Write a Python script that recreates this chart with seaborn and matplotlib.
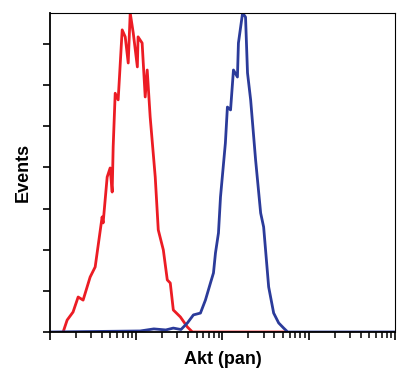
import pandas as pd
import seaborn as sns
import matplotlib.pyplot as plt
from matplotlib.ticker import FixedLocator, NullFormatter, MultipleLocator

# isotype / negative control (red) - intensity vs. events
red_x = [1.42, 1.58, 1.85, 2.12, 2.42, 2.92, 3.34, 4.02, 4.13, 4.60, 4.98, 5.26, 5.40,
         5.70, 6.17, 6.87, 7.45, 8.07, 8.51, 9.23, 10.3, 10.5, 11.7, 12.7, 13.4, 14.5,
         16.6, 18.0, 20.6, 22.9, 24.8, 26.9, 32.5, 39.2, 44.8, 540]
red_y = [0, 5.8, 9.7, 17, 15.5, 26.7, 31.6, 55.9, 53, 75.3, 79.7, 68, 89.9,
         116, 112.8, 146.8, 143.4, 130.7, 155, 145.3, 128.8, 143.4, 140.4, 114.2, 127.3, 104.5,
         75.3, 49.6, 39.9, 25.3, 23.8, 10.7, 7.3, 2.4, 0, 0]

# Akt (pan) stained (blue)
blue_x = [1.0, 11.1, 16.0, 22.0, 26.9, 33.0, 39.2, 46.0, 55.5, 63.4, 72.5, 78.6, 82.9,
          89.8, 94.8, 108, 114, 124, 134, 149, 153, 171, 185, 195, 212, 242, 277, 300,
          343, 392, 448, 512, 570, 652, 10000]
blue_y = [0, 0.5, 1.5, 1.0, 1.9, 1.2, 4.4, 8.3, 9.2, 15.5, 23.8, 28.7, 38.4,
          48.1, 65.6, 91.8, 109.3, 107.9, 127.3, 123.9, 140.4, 155, 153, 125.9, 112.8,
          83.6, 57.8, 51, 21.9, 9.2, 4.4, 1.9, 0, 0, 0]

decades = [1, 10, 100, 1000, 10000]

df = pd.concat([
    pd.DataFrame({"intensity": red_x, "events": red_y, "sample": "control"}),
    pd.DataFrame({"intensity": blue_x, "events": blue_y, "sample": "Akt"}),
])

sns.set_style("ticks")
plt.rcParams["font.family"] = ["Liberation Sans", "DejaVu Sans"]

fig = plt.figure(figsize=(4.01, 3.70), dpi=100)
ax = fig.add_axes([0.1247, 0.1027, 0.8603, 0.8622])

sns.lineplot(data=df, x="intensity", y="events", hue="sample",
             palette={"control": "#ec1c24", "Akt": "#2b3b9a"},
             linewidth=2.0, legend=False, estimator=None, sort=False, ax=ax)

ax.set_xscale("log")
ax.set_xlim(1, 10000)
ax.set_ylim(0, 155)
ax.xaxis.set_major_locator(FixedLocator(decades))
ax.xaxis.set_minor_locator(FixedLocator([d * k for d in decades[:-1] for k in range(2, 10)]))
ax.xaxis.set_major_formatter(NullFormatter())
ax.xaxis.set_minor_formatter(NullFormatter())
ax.yaxis.set_major_locator(MultipleLocator(20))
ax.yaxis.set_major_formatter(NullFormatter())

ax.tick_params(axis="x", which="major", length=6, width=1.2, direction="out", color="black")
ax.tick_params(axis="x", which="minor", length=4, width=1.1, direction="out", color="black",
               bottom=True)
ax.tick_params(axis="y", which="major", length=5, width=1.2, direction="out", color="black")

for side in ["top", "right"]:
    ax.spines[side].set_visible(True)
    ax.spines[side].set_linewidth(0.8)
    ax.spines[side].set_color("black")
for side in ["left", "bottom"]:
    ax.spines[side].set_linewidth(1.3)
    ax.spines[side].set_color("black")

ax.set_xlabel("Akt (pan)", fontsize=13, fontweight="bold", color="black", labelpad=4)
ax.set_ylabel("Events", fontsize=13, fontweight="bold", color="black", labelpad=5)

plt.savefig("out.png", dpi=100)
